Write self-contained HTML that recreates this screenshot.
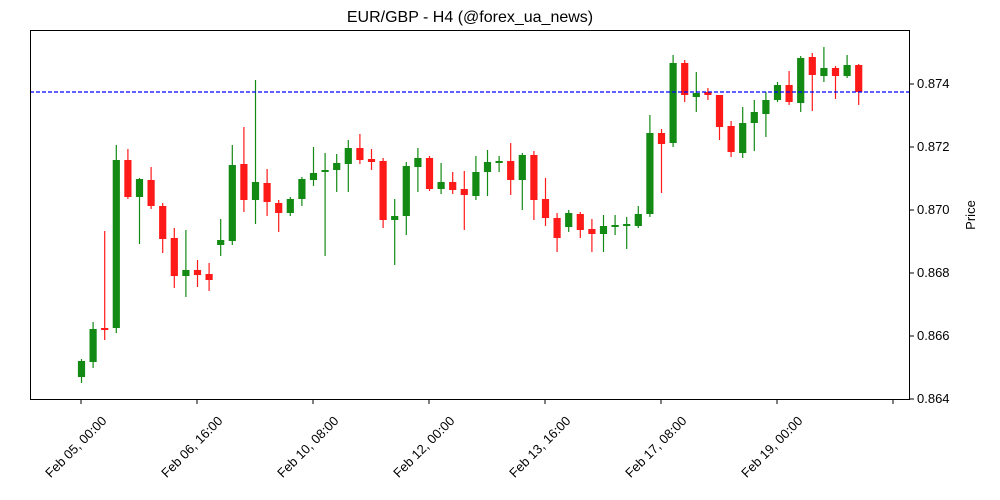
<!DOCTYPE html>
<html><head><meta charset="utf-8"><style>body{margin:0;background:#fff}svg{display:block;font-family:"Liberation Sans","DejaVu Sans",sans-serif}</style></head><body>
<svg width="1000" height="500" xmlns="http://www.w3.org/2000/svg">
<text x="470" y="22" font-size="16" text-anchor="middle" fill="#000">EUR/GBP - H4 (@forex_ua_news)</text>
<g id="c"></g>
<line x1="30" y1="92" x2="910" y2="92" stroke="#0000ff" stroke-width="1.2" stroke-dasharray="4,2"/>
<rect x="30.5" y="30.5" width="879" height="369" fill="none" stroke="#000" stroke-width="1"/>
<g font-size="12" fill="#000" stroke="#000">
<line x1="910" y1="399" x2="914" y2="399"/><line x1="910" y1="336" x2="914" y2="336"/><line x1="910" y1="273" x2="914" y2="273"/><line x1="910" y1="210" x2="914" y2="210"/><line x1="910" y1="147" x2="914" y2="147"/><line x1="910" y1="84" x2="914" y2="84"/>
</g>
<g font-size="13" fill="#000">
<text x="917" y="403">0.864</text><text x="917" y="340">0.866</text><text x="917" y="277">0.868</text><text x="917" y="214">0.870</text><text x="917" y="151">0.872</text><text x="917" y="88">0.874</text>
<text transform="translate(975,215) rotate(-90)" text-anchor="middle">Price</text>
</g>
<g id="xt" font-size="13" fill="#000"></g>
</svg>
<script>
var d=[[1,361,377,359,383],[1,329,362,322,368],[0,328,330,231,340],[1,160,328,145,333],[0,160,197,149,199],[1,179,197,178,244],[0,180,206,167,209],[0,206,239,203,253],[0,238,276,228,288],[1,270,276,230,297],[0,270,275,260,287],[0,274,280,263,291],[1,240,245,219,256],[1,165,241,145,245],[0,164,200,127,212],[1,182,200,80,224],[0,183,202,169,216],[0,203,213,200,232],[1,199,213,197,216],[1,179,199,177,206],[1,173,180,147,186],[1,170,172,153,256],[1,163,170,154,192],[1,148,164,140,192],[0,148,160,134,164],[0,159,162,149,170],[0,161,220,158,228],[1,216,220,199,265],[1,166,216,162,235],[1,158,167,148,192],[0,158,189,156,191],[1,182,189,163,194],[0,182,190,172,194],[0,189,195,171,230],[1,172,196,156,200],[1,162,172,150,196],[1,161,163,156,172],[0,161,180,143,195],[1,155,180,153,210],[0,155,200,151,220],[0,199,218,178,226],[0,218,238,213,252],[1,213,227,210,232],[0,214,230,212,238],[0,229,234,219,252],[1,226,234,215,252],[1,225,227,215,235],[1,224,226,217,249],[1,214,226,206,228],[1,133,214,115,217],[0,133,144,129,193],[1,63,143,55,147],[0,63,95,60,102],[1,93,97,72,112],[0,92,95,88,100],[0,95,127,95,140],[0,126,152,121,157],[1,123,153,107,158],[1,112,123,100,151],[1,100,114,92,137],[1,85,100,82,102],[0,85,102,71,105],[1,58,103,56,112],[0,57,75,53,111],[1,68,76,47,82],[0,68,76,66,99],[1,65,76,55,78],[0,65,92,64,105]];
var s='';d.forEach(function(c,i){var x=81.5+11.6*i,col=c[0]?'#138a13':'#ff1a1a';s+='<line x1="'+x+'" x2="'+x+'" y1="'+c[3]+'" y2="'+c[4]+'" stroke="'+col+'" stroke-width="1.2"/>';var h=Math.max(c[2]-c[1],1.2);s+='<rect x="'+(x-3.6)+'" y="'+c[1]+'" width="7.2" height="'+h+'" fill="'+col+'"/>';});
document.getElementById('c').innerHTML=s;
var L=['Feb 05, 00:00','Feb 06, 16:00','Feb 10, 08:00','Feb 12, 00:00','Feb 13, 16:00','Feb 17, 08:00','Feb 19, 00:00',''],t='';
[81,197,313,429,545,661,777,893].forEach(function(x,i){t+='<line x1="'+x+'" x2="'+x+'" y1="400" y2="404" stroke="#000"/>';if(L[i])t+='<text transform="translate('+(x-2)+',450) rotate(-45)" text-anchor="middle">'+L[i]+'</text>';});
document.getElementById('xt').innerHTML=t;
</script>
</body></html>
